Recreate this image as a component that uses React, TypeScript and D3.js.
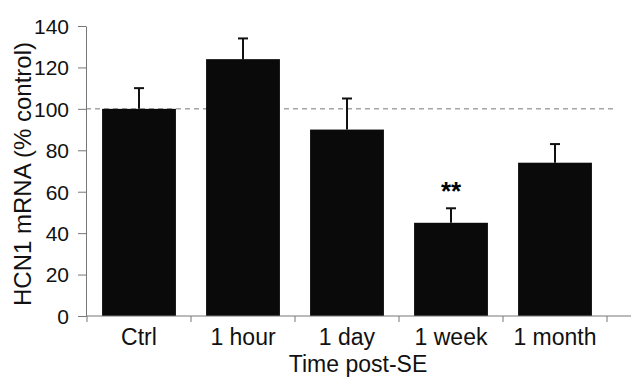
import React, { useEffect, useRef } from "react";
import * as d3 from "d3";

const categories = ["Ctrl", "1 hour", "1 day", "1 week", "1 month"];
const means = [100, 124, 90, 45, 74];
const errors = [10, 10, 15, 7, 9];
const marks = ["", "", "", "**", ""];
const yTicks = [0, 20, 40, 60, 80, 100, 120, 140];

const W = 631;
const H = 378;
const FONT = "'Liberation Sans', Arial, Helvetica, sans-serif";

function App() {
  const ref = useRef<SVGSVGElement>(null);

  useEffect(() => {
    const svg = d3.select(ref.current);
    svg.selectAll("*").remove();

    const left = 86, top = 26, bottom = 316, right = 607;
    const x = d3.scaleBand().domain(categories).range([87, right]).paddingInner(0.29).paddingOuter(0.145);
    const y = d3.scaleLinear().domain([0, 140]).range([bottom, top]);

    const g = svg.append("g");

    // reference line at 100%
    g.append("line")
      .attr("x1", left).attr("x2", 617)
      .attr("y1", y(100)).attr("y2", y(100))
      .attr("stroke", "#777").attr("stroke-width", 1)
      .attr("stroke-dasharray", "5,4");

    // error bars
    categories.forEach((c, i) => {
      const cx = x(c)! + x.bandwidth() / 2;
      g.append("line")
        .attr("x1", cx).attr("x2", cx)
        .attr("y1", y(means[i])).attr("y2", y(means[i] + errors[i]))
        .attr("stroke", "#111").attr("stroke-width", 2);
      g.append("line")
        .attr("x1", cx - 5).attr("x2", cx + 5)
        .attr("y1", y(means[i] + errors[i])).attr("y2", y(means[i] + errors[i]))
        .attr("stroke", "#111").attr("stroke-width", 2);
      if (marks[i]) {
        g.append("text")
          .attr("x", cx).attr("y", y(means[i] + errors[i]) - 8)
          .attr("text-anchor", "middle")
          .attr("font-family", FONT).attr("font-size", 26).attr("font-weight", "bold")
          .text(marks[i]);
      }
    });

    g.selectAll("rect.bar").data(means).enter().append("rect")
      .attr("class", "bar")
      .attr("x", (d, i) => x(categories[i])!)
      .attr("width", x.bandwidth())
      .attr("y", d => y(d))
      .attr("height", d => bottom - y(d))
      .attr("fill", "#0a0a0a");

    // y axis
    const yAxis = g.append("g").attr("transform", `translate(${left},0)`)
      .call(d3.axisLeft(y).tickValues(yTicks).tickSize(8).tickPadding(9).tickSizeOuter(0));
    yAxis.select(".domain").attr("stroke", "#777");
    yAxis.selectAll(".tick line").attr("stroke", "#777");
    yAxis.selectAll("text").attr("font-family", FONT).attr("font-size", 21).attr("fill", "#111").attr("dy", "0.35em");

    // x axis
    g.append("line")
      .attr("x1", left).attr("x2", W)
      .attr("y1", bottom).attr("y2", bottom)
      .attr("stroke", "#777");
    const bounds = categories.map(c => x(c)! - (x.step() - x.bandwidth()) / 2);
    bounds.push(right);
    g.selectAll("line.xt").data(bounds).enter().append("line")
      .attr("class", "xt")
      .attr("x1", d => d).attr("x2", d => d)
      .attr("y1", bottom).attr("y2", bottom + 6)
      .attr("stroke", "#777");
    g.selectAll("text.xl").data(categories).enter().append("text")
      .attr("class", "xl")
      .attr("x", d => x(d)! + x.bandwidth() / 2)
      .attr("y", 345)
      .attr("text-anchor", "middle")
      .attr("font-family", FONT).attr("font-size", 23).attr("fill", "#111")
      .text(d => d);

    g.append("text")
      .attr("x", 358).attr("y", 372)
      .attr("text-anchor", "middle")
      .attr("font-family", FONT).attr("font-size", 23).attr("fill", "#111")
      .text("Time post-SE");

    g.append("text")
      .attr("transform", `translate(31,174) rotate(-90)`)
      .attr("text-anchor", "middle")
      .attr("font-family", FONT).attr("font-size", 24).attr("fill", "#111")
      .text("HCN1 mRNA (% control)");
  }, []);

  return (
    <svg ref={ref} width={W} height={H} style={{ position: "absolute", left: 0, top: 0, background: "#fff" }} />
  );
}

export default App;
